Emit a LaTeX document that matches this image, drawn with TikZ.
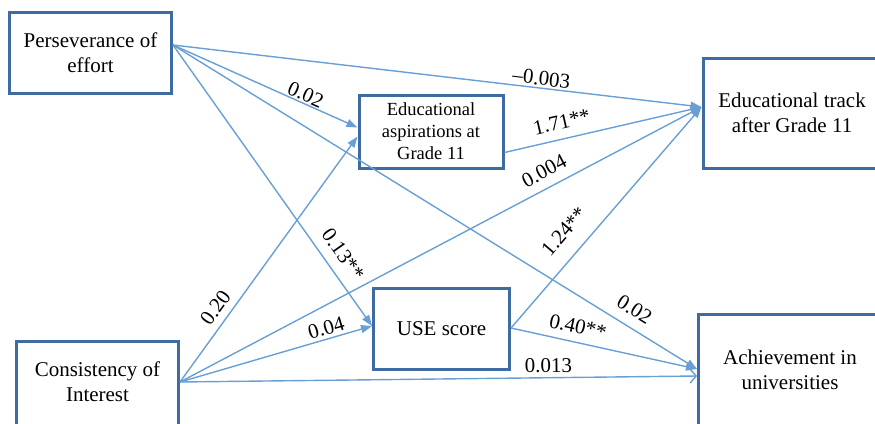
\documentclass[tikz,border=0pt]{standalone}
\usepackage{fontspec}
\setmainfont{Liberation Serif}
\usetikzlibrary{arrows.meta}
\definecolor{boxblue}{RGB}{62,108,162}
\definecolor{linkblue}{RGB}{104,160,214}
\begin{document}
\begin{tikzpicture}[x=1pt,y=-1pt,
  box/.style={draw=boxblue, line width=3pt, inner sep=0pt, align=center,
    font=\fontsize{21}{25}\selectfont},
  boxtext/.style={inner sep=0pt, align=center, font=\fontsize{21}{25}\selectfont},
  link/.style={draw=linkblue, line width=1.4pt, -{Triangle[length=11pt,width=8pt]}},
  openlink/.style={draw=linkblue, line width=1.4pt, -{Straight Barb[length=6pt,width=14pt]}},
  coef/.style={font=\fontsize{21}{25}\selectfont, sloped, inner sep=1pt},
]
\useasboundingbox (0,0) rectangle (875,423);
\clip (0,0) rectangle (875,423);

% variables
\node[box, minimum width=162pt, minimum height=81pt] (per) at (90.5,53) {Perseverance of\\effort};
\node[box, font=\fontsize{18.5}{22}\selectfont, minimum width=144pt, minimum height=73pt] (asp) at (431,131.5) {Educational\\aspirations at\\Grade 11};
\node[box, minimum width=178pt, minimum height=110pt] (trk) at (792,113) {Educational track\\after Grade 11};
\node[box, minimum width=136pt, minimum height=81pt] (use) at (441.5,329) {USE score};
\node[box, minimum width=183pt, minimum height=111pt] (ach) at (790,370) {Achievement in\\universities};
\node[box, minimum width=162pt, minimum height=100pt,
  label={[boxtext, yshift=9.5pt]center:{Consistency of\\Interest}}] (cons) at (97.5,391.5) {};

% attachment points on the box borders
\coordinate (perOut) at ([yshift=8pt]per.east);
\coordinate (consOut) at ([yshift=9.5pt]cons.east);
\coordinate (aspOut) at ([yshift=-21pt]asp.east);
\coordinate (useOut) at ([yshift=1pt]use.east);
\coordinate (aspInA) at ([yshift=4pt]asp.west);
\coordinate (aspInB) at ([yshift=-5pt]asp.west);
\coordinate (trkIn) at ([yshift=6pt]trk.west);
\coordinate (useIn) at ([yshift=3pt]use.west);
\coordinate (achIn) at ([yshift=1pt]ach.west);
\coordinate (achInB) at ([yshift=-6pt]ach.west);

% paths with coefficients
\draw[link] (perOut) -- node[coef, pos=.695, above=1pt] {–0.003} (trkIn);
\draw[link] (perOut) -- node[coef, pos=.70, above] {0.02} (aspInA);
\draw[link] (perOut) -- node[coef, pos=.782, above=9pt] {0.13**} (useIn);
\draw[link] (perOut) -- node[coef, pos=.863, above=9pt] {0.02} (achIn);
\draw[link] (consOut) -- node[coef, pos=.267, above=6pt] {0.20} (aspInB);
\draw[link] (consOut) -- node[coef, pos=.713, above=8pt] {0.004} (trkIn);
\draw[link] (consOut) -- node[coef, pos=.777, above=2pt] {0.04} (useIn);
\draw[openlink] (consOut) -- node[coef, pos=.713, above=3.5pt] {0.013} (achInB);
\draw[link] (aspOut) -- node[coef, pos=.31, above=8pt] {1.71**} (trkIn);
\draw[link] (useOut) -- node[coef, pos=.369, above=14pt] {1.24**} (trkIn);
\draw[link] (useOut) -- node[coef, pos=.342, above=7pt] {0.40**} (achIn);
\end{tikzpicture}
\end{document}
